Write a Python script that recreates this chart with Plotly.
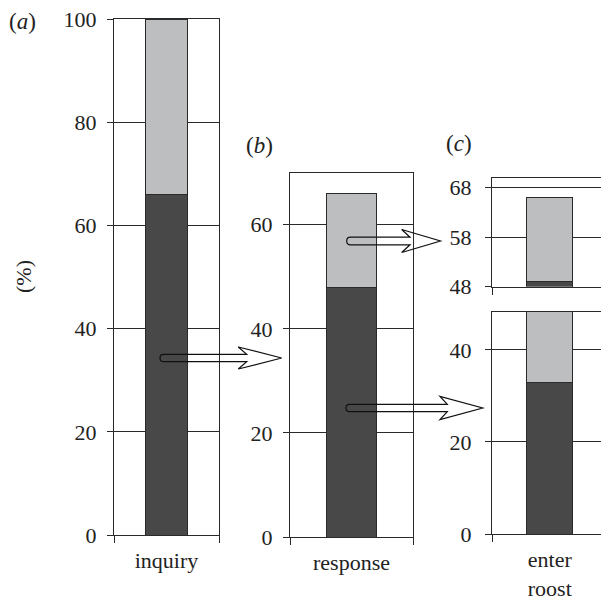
import plotly.graph_objects as go

# ---------------- data ----------------
categories = ["inquiry", "response", "enter<br>roost"]
dark_pct = [66, 48, 33]          # dark segment (%)
light_pct = [34, 18, 33]         # light segment stacked on top (%)
# upper part of the broken axis in panel (c)
dark_upper = 49
light_upper = 17

ticks_a = [0, 20, 40, 60, 80, 100]
ticks_b = [0, 20, 40, 60]
ticks_c_upper = [48, 58, 68]
ticks_c_lower = [0, 20, 40]
panel_labels = ["(<i>a</i>)", "(<i>b</i>)", "(<i>c</i>)"]

# ---------------- style ----------------
W, H = 609, 598
OFF = 8                      # page body margin
FW, FH = W - OFF, H - OFF    # figure size
FONT = "'Liberation Serif', 'Times New Roman', Times, serif"
DARK = "#484849"
LIGHT = "#bdbec0"
LINE = "#2a2a2a"
FS_TICK = 22
FS_CAT = 22
FS_LAB = 23


def fx(x):
    return (x - OFF) / FW


def fy(y):
    return 1 - (y - OFF) / FH


fig = go.Figure()

panels = [
    ("x", "y", dark_pct[0], light_pct[0]),
    ("x2", "y2", dark_pct[1], light_pct[1]),
    ("x3", "y3", dark_upper, light_upper),
    ("x4", "y4", dark_pct[2], light_pct[2]),
]
for xa, ya, d, l in panels:
    fig.add_trace(go.Bar(x=[0], y=[d], width=0.4, xaxis=xa, yaxis=ya,
                         marker=dict(color=DARK, line=dict(color=LINE, width=1)),
                         showlegend=False, hoverinfo="skip"))
    fig.add_trace(go.Bar(x=[0], y=[l], width=0.4, xaxis=xa, yaxis=ya,
                         marker=dict(color=LIGHT, line=dict(color=LINE, width=1)),
                         showlegend=False, hoverinfo="skip"))


def yax(rng, tv, dom, standoff=6):
    return dict(range=rng, tickvals=tv, ticks="outside", ticklen=6, tickcolor=LINE,
                showgrid=True, gridcolor=LINE, gridwidth=1, showline=True, mirror=True,
                linecolor=LINE, linewidth=1, zeroline=False, domain=dom, automargin=False,
                tickfont=dict(family=FONT, size=FS_TICK, color="#222"),
                ticklabelstandoff=standoff, ticklabeloverflow="allow")


def xax(label, dom, anchor, show=True):
    return dict(range=[-0.5, 0.5], tickvals=[0], ticktext=[label], ticks="",
                showticklabels=show, showgrid=False, showline=True, mirror=True,
                linecolor=LINE, linewidth=1, zeroline=False, domain=dom, anchor=anchor,
                automargin=False, ticklabelstandoff=6, ticklabeloverflow="allow",
                tickfont=dict(family=FONT, size=FS_CAT, color="#222"),
                minor=dict(tickmode="array", tickvals=[-0.5, 0.5], ticks="outside",
                           ticklen=7, tickcolor=LINE, showgrid=False))


xa_dom = [fx(114), fx(219)]
xb_dom = [fx(290), fx(413)]
xc_dom = [fx(492), fx(607.5)]

fig.update_layout(
    template="none",
    width=FW, height=FH, margin=dict(l=0, r=0, t=0, b=0, autoexpand=False),
    paper_bgcolor="white", plot_bgcolor="white", barmode="stack",
    xaxis=xax(categories[0], xa_dom, "y"),
    yaxis=yax([0, 100], ticks_a, [fy(535), fy(19)]),
    xaxis2=xax(categories[1], xb_dom, "y2"),
    yaxis2=dict(yax([0, 70], ticks_b, [fy(537), fy(172.7)]), anchor="x2"),
    xaxis3=xax("", xc_dom, "y3", show=False),
    yaxis3=dict(yax([48, 70], ticks_c_upper, [fy(286.7), fy(177.7)], 9), anchor="x3"),
    xaxis4=xax(categories[2], xc_dom, "y4"),
    yaxis4=dict(yax([0, 48.3], ticks_c_lower, [fy(534), fy(311.7)], 9), anchor="x4"),
    font=dict(family=FONT, size=FS_TICK, color="#222"),
)

for txt, (x, y) in zip(panel_labels, [(22, 22), (259, 145), (459, 143)]):
    fig.add_annotation(text=txt, x=fx(x), y=fy(y), xref="paper", yref="paper",
                       showarrow=False, xanchor="center", yanchor="middle",
                       font=dict(family=FONT, size=FS_LAB, color="#222"))
fig.add_annotation(text="(%)", x=fx(23), y=fy(277), xref="paper", yref="paper",
                   showarrow=False, textangle=-90, xanchor="center", yanchor="middle",
                   font=dict(family=FONT, size=FS_TICK, color="#222"))


def arrow_path(x0, yc, xs, xb, xt, hs, hh):
    r = hs
    pts = [
        (x0 + r, yc - hs), (xs, yc - hs), (xb, yc - hh), (xt, yc),
        (xb, yc + hh), (xs, yc + hs), (x0 + r, yc + hs),
    ]
    p = "M " + " L ".join(f"{fx(a):.5f},{fy(b):.5f}" for a, b in pts)
    p += f" Q {fx(x0):.5f},{fy(yc + hs):.5f} {fx(x0):.5f},{fy(yc):.5f}"
    p += f" Q {fx(x0):.5f},{fy(yc - hs):.5f} {fx(x0 + r):.5f},{fy(yc - hs):.5f} Z"
    return p


arrows = [
    (160, 358, 246.7, 238.3, 281.7, 3.7, 11),
    (346.7, 241, 410, 401.7, 440.5, 3.8, 11.5),
    (346, 408, 447.3, 440, 482.7, 3.7, 11.6),
]
for a in arrows:
    fig.add_shape(type="path", path=arrow_path(*a), xref="paper", yref="paper",
                  line=dict(color="#111", width=1.2), fillcolor="rgba(0,0,0,0)",
                  layer="above")

fig.write_html("out.html")
